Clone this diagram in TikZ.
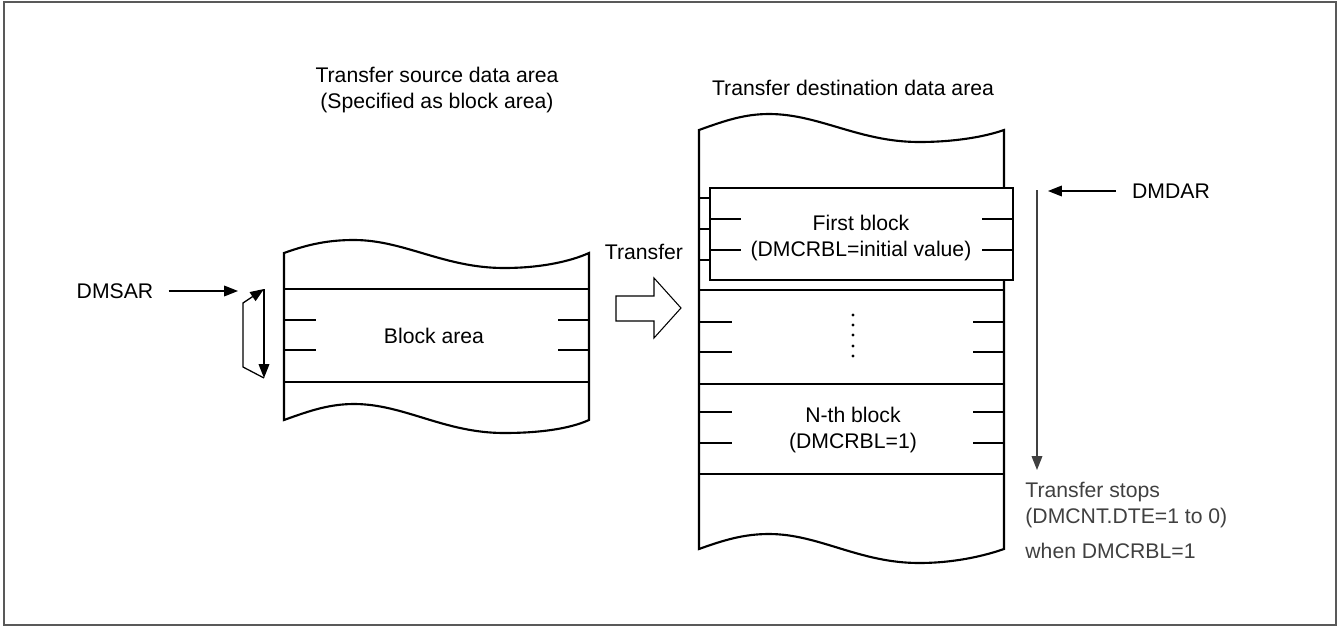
\documentclass[tikz,border=0pt]{standalone}
\usepackage{fontspec}
\setmainfont{Liberation Sans}
\usetikzlibrary{arrows.meta}

\tikzset{
  outline/.style={line width=1pt},
  rule/.style={line width=0.6pt},
  ptr/.style={line width=0.6pt, -{Triangle[length=6.5pt,width=5pt]}},
  lbl/.style={inner sep=0pt, align=center},
}

\begin{document}
\begin{tikzpicture}[x=0.472pt, y=-0.472pt, font=\fontsize{10}{12}\selectfont]
    % Block transfer: source block area repeated into destination blocks
    \useasboundingbox (0,0) rectangle (1339,628);
    \draw[black!65, line width=1pt] (4,2) rectangle (1336,625);

    % transfer source data area
    \draw[outline] (284,253) .. controls (309,244) and (329,240) .. (354,240)
        .. controls (404,240) and (444,268) .. (504,268)
        .. controls (539,268) and (569,262) .. (589,253) -- (589,420)
        .. controls (569,429) and (539,433) .. (504,433)
        .. controls (444,433) and (404,404) .. (354,404)
        .. controls (329,404) and (309,411) .. (284,420) -- cycle;
    \draw[rule] (284,289) -- (589,289) (284,382) -- (589,382);
    \foreach \y in {320,350}
        \draw[rule] (284,\y) -- (316,\y) (558,\y) -- (589,\y);
    \node[lbl] (blockarea) at (434,336) {Block area};
    \node[lbl] (srctitle) at (437,90) {Transfer source data area\\(Specified as block area)};

    % DMSAR and its repeat loop
    \node[lbl] (dmsar) at (115,291) {DMSAR};
    \coordinate (sarhit) at (238,291);
    \coordinate (sartop) at (264,289);
    \coordinate (sarbot) at (264,378);
    \draw[ptr, shorten <=7pt] (dmsar) -- (sarhit);
    \draw[ptr] (sartop) -- (sarbot);
    \draw[ptr] (sarbot) -- ++(-21,-11) -- ++(0,-64) -- (sartop);

    % transfer arrow
    \node[lbl] (xfer) at (644,252) {Transfer};
    \draw[line width=0.5pt] (616,296) -- (654,296) -- (654,278) -- (681,308)
        -- (654,338) -- (654,321) -- (616,321) -- cycle;

    % transfer destination data area
    \draw[outline] (699,130) .. controls (724,121) and (744,114) .. (769,114)
        .. controls (819,114) and (859,142) .. (919,142)
        .. controls (954,142) and (984,137) .. (1004,130) -- (1004,549)
        .. controls (984,556) and (954,563) .. (919,563)
        .. controls (859,563) and (819,534) .. (769,534)
        .. controls (744,534) and (724,540) .. (699,549) -- cycle;
    \foreach \y in {198,290,384,474}
        \draw[rule] (699,\y) -- (1004,\y);
    \foreach \y in {229,260,322,352,412,443}
        \draw[rule] (699,\y) -- (732,\y) (973,\y) -- (1004,\y);
    \node[lbl] (dsttitle) at (853,88) {Transfer destination data area};

    % first block, shifted on top
    \draw[rule, fill=white] (710,188) rectangle (1013,280);
    \foreach \y in {219,250}
        \draw[rule] (710,\y) -- (741,\y) (982,\y) -- (1013,\y);
    \node[lbl] (first) at (861,238) {First block\\(DMCRBL=initial value)};

    % middle blocks and last block
    \foreach \y in {315,325,335,346,356}
        \fill (853,\y) circle[radius=0.8pt];
    \node[lbl] (nth) at (853,430) {N-th block\\(DMCRBL=1)};

    % DMDAR and run direction
    \node[lbl] (dmdar) at (1171,191) {DMDAR};
    \coordinate (darhit) at (1048,191);
    \draw[ptr, shorten <=7.5pt] (dmdar) -- (darhit);
    \coordinate (runtop) at (1037,190);
    \coordinate (runend) at (1037,470);
    \draw[ptr, black!75] (runtop) -- (runend);
    \node[lbl, anchor=north west, align=left, text=black!75] (stops) at (1025,482)
        {Transfer stops\\(DMCNT.DTE=1 to 0)};
    \node[lbl, anchor=base west, text=black!75] (whenrbl) at (1025,558) {when DMCRBL=1};
\end{tikzpicture}
\end{document}
